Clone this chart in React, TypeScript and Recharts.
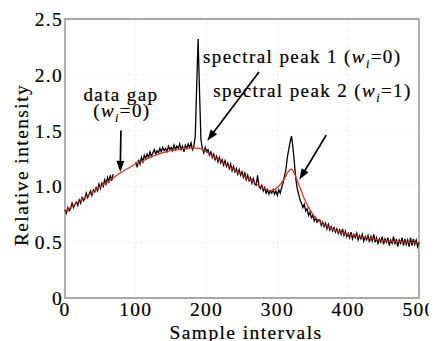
import React from 'react';
import { LineChart, Line, XAxis, YAxis, CartesianGrid, ReferenceLine, ReferenceArea, Label } from 'recharts';

const FONT = "'Liberation Serif', 'Times New Roman', serif";

const xTicks = [0, 100, 200, 300, 400, 500];
const yTicks = [0, 0.5, 1.0, 1.5, 2.0, 2.5];

// measured spectrum (black), sampled every 2 intervals; data gap between 68 and 100
const sampleStep = 2;
const measuredStartA = 0;
const measuredA = [
  0.79, 0.76, 0.81, 0.78, 0.80, 0.85, 0.81, 0.84, 0.86, 0.83,
  0.88, 0.85, 0.90, 0.87, 0.89, 0.94, 0.90, 0.93, 0.96, 0.92,
  0.97, 0.95, 0.99, 0.96, 1.02, 0.98, 1.03, 1.00, 1.06, 1.02,
  1.08, 1.04, 1.10, 1.05, 1.11,
];
const measuredStartB = 100;
const measuredB = [
  1.22, 1.17, 1.24, 1.20, 1.26, 1.22, 1.28, 1.25, 1.29, 1.26,
  1.31, 1.27, 1.30, 1.33, 1.29, 1.32, 1.30, 1.34, 1.31, 1.35,
  1.32, 1.34, 1.31, 1.36, 1.33, 1.35, 1.32, 1.37, 1.33, 1.36,
  1.34, 1.38, 1.33, 1.36, 1.31, 1.37, 1.34, 1.38, 1.35, 1.39,
  1.33, 1.36, 1.45, 1.90, 2.32, 1.85, 1.42, 1.34, 1.30, 1.35,
  1.31, 1.33, 1.28, 1.31, 1.26, 1.29, 1.24, 1.27, 1.22, 1.26,
  1.21, 1.24, 1.19, 1.23, 1.18, 1.21, 1.16, 1.20, 1.14, 1.18,
  1.13, 1.16, 1.11, 1.15, 1.10, 1.13, 1.08, 1.12, 1.06, 1.10,
  1.05, 1.08, 1.03, 1.07, 1.02, 1.01, 1.10, 1.00, 0.98, 1.01,
  0.96, 0.99, 0.94, 0.97, 0.93, 0.96, 0.94, 0.97, 0.93, 0.96,
  0.92, 0.97, 0.94, 0.99, 1.03, 1.09, 1.15, 1.26, 1.33, 1.40,
  1.45, 1.35, 1.21, 1.07, 0.98, 0.93, 0.88, 0.85, 0.81, 0.84,
  0.78, 0.80, 0.74, 0.77, 0.72, 0.74, 0.69, 0.72, 0.68, 0.70,
  0.70, 0.65, 0.68, 0.64, 0.67, 0.62, 0.66, 0.61, 0.64, 0.60,
  0.63, 0.59, 0.62, 0.58, 0.61, 0.57, 0.62, 0.56, 0.60, 0.55,
  0.58, 0.54, 0.59, 0.53, 0.57, 0.54, 0.58, 0.52, 0.56, 0.53,
  0.57, 0.51, 0.55, 0.52, 0.56, 0.50, 0.55, 0.51, 0.57, 0.50,
  0.54, 0.49, 0.53, 0.50, 0.55, 0.48, 0.53, 0.50, 0.54, 0.47,
  0.52, 0.49, 0.55, 0.48, 0.53, 0.46, 0.52, 0.49, 0.54, 0.47,
  0.53, 0.48, 0.52, 0.46, 0.54, 0.47, 0.53, 0.48, 0.52, 0.46,
  0.50,
];

// fitted background (red)
const fitX = [0, 10, 20, 30, 40, 50, 60, 70, 80, 90, 100, 110, 120, 130, 140, 150, 160, 170, 180, 190,
  200, 210, 220, 230, 240, 250, 260, 270, 280, 290, 300, 310, 316, 320, 324, 330, 340, 350, 360, 370,
  380, 390, 400, 410, 420, 430, 440, 450, 460, 470, 480, 490, 500];
const fitY = [0.775, 0.82, 0.865, 0.91, 0.955, 1.0, 1.04, 1.085, 1.13, 1.165, 1.2, 1.23, 1.26, 1.285, 1.305, 1.32, 1.33, 1.34, 1.345, 1.34,
  1.31, 1.265, 1.225, 1.185, 1.145, 1.105, 1.065, 1.025, 0.985, 0.96, 0.99, 1.07, 1.14, 1.155, 1.115, 1.02, 0.86, 0.75, 0.68, 0.64,
  0.61, 0.59, 0.57, 0.555, 0.545, 0.535, 0.525, 0.515, 0.51, 0.505, 0.5, 0.495, 0.495];

type Annotation = {
  tail: [number, number];
  tip: [number, number];
  lines: { pre: string; w?: boolean; sub?: string; post?: string; dx: number; dy: number; anchor: string }[];
};

const annotations: Annotation[] = [
  {
    tail: [79, 1.5], tip: [78, 1.13],
    lines: [
      { pre: 'data gap', dx: 0, dy: -30, anchor: 'middle' },
      { pre: '(', w: true, sub: 'i', post: '=0)', dx: 1, dy: -13.5, anchor: 'middle' },
    ],
  },
  {
    tail: [274, 2.025], tip: [201, 1.41],
    lines: [{ pre: 'spectral peak 1 (', w: true, sub: 'i', post: '=0)', dx: -56, dy: -9.5, anchor: 'start' }],
  },
  {
    tail: [369, 1.46], tip: [331, 1.06],
    lines: [{ pre: 'spectral peak 2 (', w: true, sub: 'i', post: '=1)', dx: -113, dy: -37.7, anchor: 'start' }],
  },
];

function buildRows() {
  const map = new Map<number, any>();
  const put = (x: number, key: string, v: number) => {
    const r = map.get(x) ?? { x };
    r[key] = v;
    map.set(x, r);
  };
  measuredA.forEach((v, i) => put(measuredStartA + i * sampleStep, 'measured', v));
  measuredB.forEach((v, i) => put(measuredStartB + i * sampleStep, 'measured', v));
  fitX.forEach((x, i) => put(x, 'fit', fitY[i]));
  return Array.from(map.values()).sort((a, b) => a.x - b.x);
}

const rows = buildRows();

const textWeight = { stroke: '#000', strokeWidth: 0.2 };

function makeArrowShape(a: Annotation) {
  return (p: any) => {
    const { x1, y1, x2, y2 } = p;
    const dx = x2 - x1;
    const dy = y2 - y1;
    const len = Math.hypot(dx, dy) || 1;
    const ux = dx / len;
    const uy = dy / len;
    const hl = 11;
    const hw = 4;
    const bx = x2 - ux * hl;
    const by = y2 - uy * hl;
    const pts = `${x2},${y2} ${bx - uy * hw},${by + ux * hw} ${bx + uy * hw},${by - ux * hw}`;
    return (
      <g>
        <line x1={x1} y1={y1} x2={bx + ux * 2} y2={by + uy * 2} stroke="#000" strokeWidth={1.7} />
        <polygon points={pts} fill="#000" />
        {a.lines.map((l, i) => (
          <text
            key={i}
            x={x1 + l.dx}
            y={y1 + l.dy}
            textAnchor={l.anchor as any}
            fontFamily={FONT}
            fontSize={19}
            style={{ letterSpacing: '1.4px' }}
            fill="#000"
            {...textWeight}
          >
            <tspan>{l.pre}</tspan>
            {l.w ? <tspan fontStyle="italic">w</tspan> : null}
            {l.sub ? <tspan fontStyle="italic" fontSize={12} dy={5}>{l.sub}</tspan> : null}
            {l.post ? <tspan dy={-5}>{l.post}</tspan> : null}
          </text>
        ))}
      </g>
    );
  };
}

const XLabel = (props: any) => {
  const vb = props.viewBox || { x: 57, y: 290, width: 354, height: 43 };
  return (
    <text x={vb.x + vb.width / 2 + 4} y={vb.y + 41} textAnchor="middle" fontFamily={FONT} fontSize={19.5} style={{ letterSpacing: '1.4px' }} fill="#000" {...textWeight}>
      Sample intervals
    </text>
  );
};

const YLabel = (props: any) => {
  const vb = props.viewBox || { x: 0, y: 11, width: 57, height: 279 };
  const cx = 19.5;
  const cy = vb.y + vb.height / 2 + 6.5;
  return (
    <text x={cx} y={cy} transform={`rotate(-90, ${cx}, ${cy})`} textAnchor="middle" fontFamily={FONT} fontSize={19.5} style={{ letterSpacing: '1.4px' }} fill="#000" {...textWeight}>
      Relative intensity
    </text>
  );
};

const tickStyle = { fontFamily: FONT, fontSize: 19.5, fill: '#000', stroke: '#000', strokeWidth: 0.2, style: { letterSpacing: '1.3px' } };

export default function App() {
  return (
    <div style={{ width: 429, height: 333 }}>
      <LineChart width={429} height={333} data={rows} margin={{ top: 11, right: 18, bottom: 0, left: 0 }}>
        <CartesianGrid stroke="#e4e4e4" strokeDasharray="1 3" vertical horizontal />
        <XAxis
          dataKey="x"
          type="number"
          domain={[0, 500]}
          ticks={xTicks}
          height={43}
          tickLine={false}
          axisLine={false}
          tickSize={0}
          tickMargin={4}
          tick={tickStyle}
          interval={0}
        >
          <Label content={XLabel} />
        </XAxis>
        <YAxis
          type="number"
          domain={[0, 2.5]}
          ticks={yTicks}
          width={57}
          tickLine={false}
          axisLine={false}
          tickSize={0}
          tickMargin={2}
          tick={tickStyle}
          interval={0}
          tickFormatter={(v: number) => (v === 0 ? '0' : v.toFixed(1))}
        >
          <Label content={YLabel} />
        </YAxis>
        <ReferenceArea x1={0} x2={500} y1={0} y2={2.5} fill="none" fillOpacity={0} stroke="#8c8c8c" strokeWidth={1.3} />
        <Line
          dataKey="measured"
          stroke="#000"
          strokeWidth={1.3}
          dot={false}
          isAnimationActive={false}
          connectNulls={false}
          type="linear"
        />
        <Line
          dataKey="fit"
          stroke="#f0281e"
          strokeWidth={1.2}
          dot={false}
          isAnimationActive={false}
          connectNulls
          type="monotone"
        />
        {annotations.map((a, i) => (
          <ReferenceLine
            key={i}
            segment={[{ x: a.tail[0], y: a.tail[1] }, { x: a.tip[0], y: a.tip[1] }]}
            shape={makeArrowShape(a)}
            ifOverflow="visible"
          />
        ))}
      </LineChart>
    </div>
  );
}
